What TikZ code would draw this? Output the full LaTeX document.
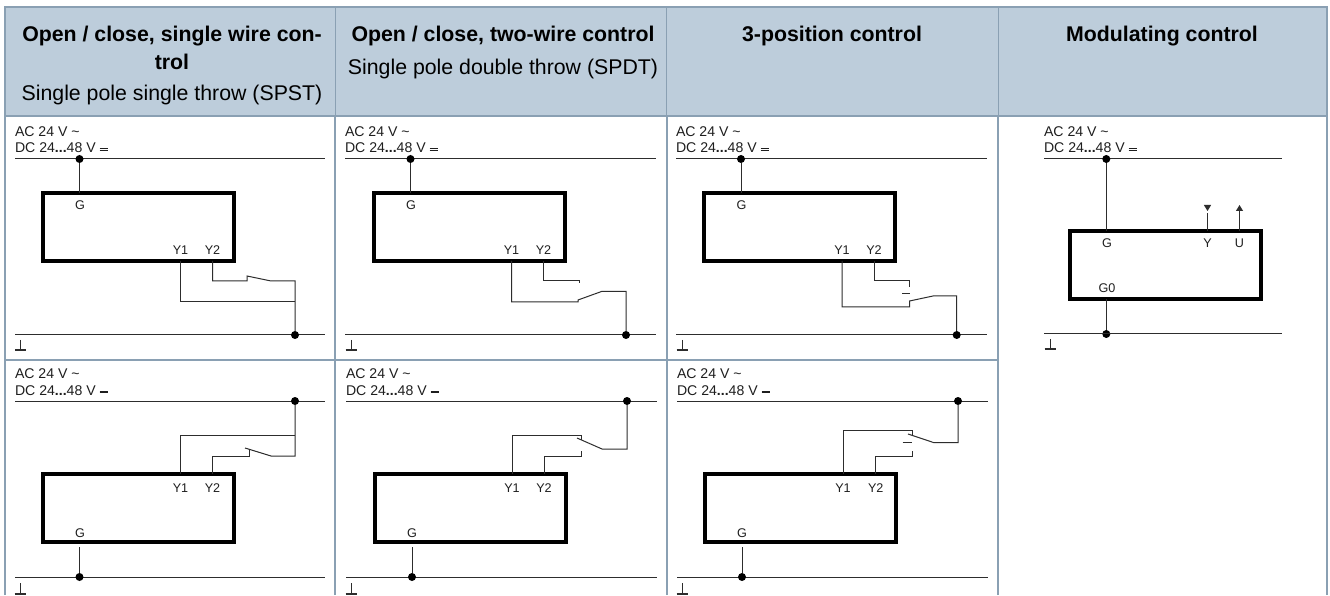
\documentclass[tikz,border=0pt]{standalone}
\usepackage{fontspec}
\setmainfont{Liberation Sans}
\usetikzlibrary{arrows.meta}
\newcommand{\dcmark}{\rlap{\rule[3.8pt]{8pt}{0.7pt}}\rule[2.4pt]{8pt}{0.3pt}}
\tikzset{
  headText/.style={text=black,anchor=base,inner sep=0pt,outer sep=0pt,font=\fontsize{21.3}{24}\selectfont},
  headBold/.style={headText,font=\fontsize{21.3}{24}\selectfont\bfseries},
  smallText/.style={text=textColor,anchor=base,inner sep=0pt,outer sep=0pt,font=\fontsize{12.6}{14}\selectfont},
  supplyText/.style={smallText,anchor=base west,font=\fontsize{14.1}{16}\selectfont},
  deviceBox/.style={draw=black,line width=4pt,inner sep=0pt,outer sep=0pt,minimum width=191pt,minimum height=68pt},
  wireLine/.style={draw=wireColor,line width=1pt,line join=miter},
  busLine/.style={draw=wireColor,line width=1pt},
  joinDot/.style={circle,fill=black,inner sep=0pt,outer sep=0pt,minimum size=8pt},
  earthFoot/.style={draw=wireColor,line width=2.4pt},
  tablePen/.style={draw=ruleColor,line width=2pt},
  headPen/.style={draw=ruleColor,line width=1pt},
  signalTip/.style={draw=wireColor,line width=1pt,-{Triangle[width=7pt,length=6pt,fill=wireColor]}}
}
\begin{document}
\begin{tikzpicture}[x=1pt,y=1pt]
\definecolor{fillColor}{RGB}{189,205,219}
\definecolor{ruleColor}{RGB}{138,160,179}
\definecolor{wireColor}{RGB}{45,45,45}
\definecolor{textColor}{RGB}{30,30,30}
\path[use as bounding box,fill=white] (0,0) rectangle (1330,595);
\begin{scope}
\path[fill=fillColor] (5,479) rectangle (1327,588);

\path[headPen] (335,479) -- (335,588);

\path[headPen] (666.5,479) -- (666.5,588);

\path[headPen] (998,479) -- (998,588);

\path[tablePen] (335,0) -- (335,479);

\path[tablePen] (666.5,0) -- (666.5,479);

\path[tablePen] (998,0) -- (998,479);

\path[tablePen] (5,0) -- (5,589);

\path[tablePen] (1327,0) -- (1327,589);

\path[tablePen] (4,588) -- (1328,588);

\path[tablePen] (4,478.5) -- (1328,478.5);

\path[tablePen] (4,235) -- (998,235);
\end{scope}
\begin{scope}
\node[headBold] (headA) at (172,553) {Open / close, single wire con-};

\node[headBold] (headAb) at (172,525) {trol};

\node[headText] (subA) at (172,494) {Single pole single throw (SPST)};

\node[headBold] (headB) at (503,553) {Open / close, two-wire control};

\node[headText] (subB) at (503,520) {Single pole double throw (SPDT)};

\node[headBold] (headC) at (832,553) {3-position control};

\node[headBold] (headD) at (1162,553) {Modulating control};
\end{scope}
\begin{scope}
\node[supplyText] (acA) at (15,458) {AC 24 V \textasciitilde};

\node[supplyText] (dcA) at (15,442) {DC 24\textbf{...}48 V \dcmark};

\coordinate (supLA) at (15,436);

\coordinate (supRA) at (325,436);

\path[busLine] (supLA) -- (supRA);

\node[joinDot] (supDotA) at (79.5,436) {};

\node[deviceBox] (boxA) at (138.5,368) {};

\path[wireLine] (supDotA) -- (supDotA |- boxA.north);

\node[smallText] (gA) at (80,385) {G};

\node[smallText] (yoneA) at (180.5,340) {Y1};

\node[smallText] (ytwoA) at (212.5,340) {Y2};

\coordinate (gndLA) at (15,260);

\coordinate (gndRA) at (325,260);

\path[busLine] (gndLA) -- (gndRA);

\node[joinDot] (gndDotA) at (295,260) {};

\coordinate (yoneWireA) at (180.5,293);

\coordinate (ytwoWireA) at (212.5,314);

\coordinate (contactA) at (247,319);

\coordinate (bladeA) at (271,314);

\path[wireLine] (yoneA |- boxA.south) -- (yoneWireA) -- (gndDotA |- yoneWireA);

\path[wireLine] (ytwoA |- boxA.south) -- (ytwoWireA) -- (contactA |- ytwoWireA) -- (contactA) -- (bladeA) -- (gndDotA |- bladeA) -- (gndDotA);

\coordinate (earthTopA) at (20.5,255);

\coordinate (earthEndA) at (20.5,245);

\path[wireLine] (earthTopA) -- (earthEndA);

\path[earthFoot] ([xshift=-5.5pt]earthEndA) -- ([xshift=5.5pt]earthEndA);
\end{scope}
\begin{scope}
\node[supplyText] (acB) at (345,458) {AC 24 V \textasciitilde};

\node[supplyText] (dcB) at (345,442) {DC 24\textbf{...}48 V \dcmark};

\coordinate (supLB) at (345,436);

\coordinate (supRB) at (656,436);

\path[busLine] (supLB) -- (supRB);

\node[joinDot] (supDotB) at (410.5,436) {};

\node[deviceBox] (boxB) at (469.5,368) {};

\path[wireLine] (supDotB) -- (supDotB |- boxB.north);

\node[smallText] (gB) at (411,385) {G};

\node[smallText] (yoneB) at (511.5,340) {Y1};

\node[smallText] (ytwoB) at (543.5,340) {Y2};

\coordinate (gndLB) at (345,260);

\coordinate (gndRB) at (656,260);

\path[busLine] (gndLB) -- (gndRB);

\node[joinDot] (gndDotB) at (626,260) {};

\coordinate (yoneWireB) at (511.5,293);

\coordinate (ytwoWireB) at (543.5,314);

\coordinate (contactB) at (579,312);

\coordinate (pivotB) at (578,295);

\coordinate (bladeB) at (601.5,303.5);

\path[wireLine] (ytwoB |- boxB.south) -- (ytwoWireB) -- (contactB |- ytwoWireB) -- (contactB);

\path[wireLine] (yoneB |- boxB.south) -- (yoneWireB) -- (pivotB |- yoneWireB) -- (pivotB) -- (bladeB) -- (gndDotB |- bladeB) -- (gndDotB);

\coordinate (earthTopB) at (351,255);

\coordinate (earthEndB) at (351,245);

\path[wireLine] (earthTopB) -- (earthEndB);

\path[earthFoot] ([xshift=-5.5pt]earthEndB) -- ([xshift=5.5pt]earthEndB);
\end{scope}
\begin{scope}
\node[supplyText] (acC) at (676,458) {AC 24 V \textasciitilde};

\node[supplyText] (dcC) at (676,442) {DC 24\textbf{...}48 V \dcmark};

\coordinate (supLC) at (676,436);

\coordinate (supRC) at (987,436);

\path[busLine] (supLC) -- (supRC);

\node[joinDot] (supDotC) at (741,436) {};

\node[deviceBox] (boxC) at (799.5,368) {};

\path[wireLine] (supDotC) -- (supDotC |- boxC.north);

\node[smallText] (gC) at (741.5,385) {G};

\node[smallText] (yoneC) at (842,340) {Y1};

\node[smallText] (ytwoC) at (874,340) {Y2};

\coordinate (gndLC) at (676,260);

\coordinate (gndRC) at (987,260);

\path[busLine] (gndLC) -- (gndRC);

\node[joinDot] (gndDotC) at (956.7,260) {};

\coordinate (yoneWireC) at (842,288);

\coordinate (ytwoWireC) at (874,314);

\coordinate (contactC) at (909.5,308);

\coordinate (pivotC) at (909.5,294);

\coordinate (bladeC) at (933,299);

\coordinate (midLC) at (902,301);

\coordinate (midRC) at (910,301);

\path[wireLine] (ytwoC |- boxC.south) -- (ytwoWireC) -- (contactC |- ytwoWireC) -- (contactC);

\path[wireLine] (midLC) -- (midRC);

\path[wireLine] (yoneC |- boxC.south) -- (yoneWireC) -- (pivotC |- yoneWireC) -- (pivotC) -- (bladeC) -- (gndDotC |- bladeC) -- (gndDotC);

\coordinate (earthTopC) at (682,255);

\coordinate (earthEndC) at (682,245);

\path[wireLine] (earthTopC) -- (earthEndC);

\path[earthFoot] ([xshift=-5.5pt]earthEndC) -- ([xshift=5.5pt]earthEndC);
\end{scope}
\begin{scope}
\node[supplyText] (acD) at (1044,458) {AC 24 V \textasciitilde};

\node[supplyText] (dcD) at (1044,442) {DC 24\textbf{...}48 V \dcmark};

\coordinate (supLD) at (1044,436);

\coordinate (supRD) at (1282,436);

\path[busLine] (supLD) -- (supRD);

\node[joinDot] (supDotD) at (1106.3,436) {};

\node[deviceBox] (boxD) at (1165.3,330) {};

\node[joinDot] (gndDotD) at (1106.3,261) {};

\coordinate (gndLD) at (1044,261);

\coordinate (gndRD) at (1282,261);

\path[busLine] (gndLD) -- (gndRD);

\path[wireLine] (supDotD) -- (supDotD |- boxD.north);

\path[wireLine] (gndDotD) -- (gndDotD |- boxD.south);

\node[smallText] (gD) at (1107,347) {G};

\node[smallText] (yD) at (1207.5,347) {Y};

\node[smallText] (uD) at (1239.5,347) {U};

\node[smallText] (gzeroD) at (1107,302) {G0};

\coordinate (yEndD) at (1207.5,382);

\coordinate (yTipTopD) at (1207.5,390);

\coordinate (yTipD) at (1207.5,384);

\coordinate (uTipD) at (1239.5,390);

\path[wireLine] (yEndD |- boxD.north) -- (yEndD);

\path[signalTip] (yTipTopD) -- (yTipD);

\path[signalTip] (uTipD |- boxD.north) -- (uTipD);

\coordinate (earthTopD) at (1050,256);

\coordinate (earthEndD) at (1050,246);

\path[wireLine] (earthTopD) -- (earthEndD);

\path[earthFoot] ([xshift=-5.5pt]earthEndD) -- ([xshift=5.5pt]earthEndD);
\end{scope}
\begin{scope}
\node[supplyText] (acE) at (15,217) {AC 24 V \textasciitilde};

\node[supplyText] (dcE) at (15,200) {DC 24\textbf{...}48 V \dcmark};

\coordinate (supLE) at (15,194);

\coordinate (supRE) at (325,194);

\path[busLine] (supLE) -- (supRE);

\node[joinDot] (supDotE) at (295,194) {};

\node[deviceBox] (boxE) at (138.5,87) {};

\node[smallText] (yoneE) at (180.5,103) {Y1};

\node[smallText] (ytwoE) at (212.5,103) {Y2};

\node[smallText] (gE) at (80,58) {G};

\coordinate (yoneWireE) at (180.5,160);

\coordinate (ytwoWireE) at (212.5,139);

\coordinate (contactE) at (249,146);

\coordinate (tipE) at (245,147);

\coordinate (bladeE) at (271,139);

\path[wireLine] (yoneE |- boxE.north) -- (yoneWireE) -- (supDotE |- yoneWireE);

\path[wireLine] (supDotE) -- (supDotE |- bladeE) -- (bladeE) -- (tipE);

\path[wireLine] (contactE) -- (contactE |- ytwoWireE) -- (ytwoWireE) -- (ytwoE |- boxE.north);

\coordinate (gndLE) at (15,18);

\coordinate (gndRE) at (325,18);

\path[busLine] (gndLE) -- (gndRE);

\node[joinDot] (gndDotE) at (79.5,18) {};

\coordinate (gStubE) at (79.5,48);

\path[wireLine] (gStubE) -- (gndDotE);

\coordinate (earthTopE) at (20,12);

\coordinate (earthEndE) at (20,1);

\path[wireLine] (earthTopE) -- (earthEndE);

\path[earthFoot] ([xshift=-5.5pt]earthEndE) -- ([xshift=5.5pt]earthEndE);
\end{scope}
\begin{scope}
\node[supplyText] (acF) at (346,217) {AC 24 V \textasciitilde};

\node[supplyText] (dcF) at (346,200) {DC 24\textbf{...}48 V \dcmark};

\coordinate (supLF) at (346,194);

\coordinate (supRF) at (657,194);

\path[busLine] (supLF) -- (supRF);

\node[joinDot] (supDotF) at (627,194) {};

\node[deviceBox] (boxF) at (470.5,87) {};

\node[smallText] (yoneF) at (512,103) {Y1};

\node[smallText] (ytwoF) at (544,103) {Y2};

\node[smallText] (gF) at (412,58) {G};

\coordinate (yoneWireF) at (512,160);

\coordinate (ytwoWireF) at (544,139);

\coordinate (contactUpF) at (581,155);

\coordinate (contactLoF) at (581,144);

\coordinate (tipF) at (577,157);

\coordinate (bladeF) at (602,146);

\path[wireLine] (yoneF |- boxF.north) -- (yoneWireF) -- (contactUpF |- yoneWireF) -- (contactUpF);

\path[wireLine] (ytwoF |- boxF.north) -- (ytwoWireF) -- (contactLoF |- ytwoWireF) -- (contactLoF);

\path[wireLine] (supDotF) -- (supDotF |- bladeF) -- (bladeF) -- (tipF);

\coordinate (gndLF) at (346,18);

\coordinate (gndRF) at (657,18);

\path[busLine] (gndLF) -- (gndRF);

\node[joinDot] (gndDotF) at (412,18) {};

\coordinate (gStubF) at (412,48);

\path[wireLine] (gStubF) -- (gndDotF);

\coordinate (earthTopF) at (351,12);

\coordinate (earthEndF) at (351,1);

\path[wireLine] (earthTopF) -- (earthEndF);

\path[earthFoot] ([xshift=-5.5pt]earthEndF) -- ([xshift=5.5pt]earthEndF);
\end{scope}
\begin{scope}
\node[supplyText] (acG) at (677,217) {AC 24 V \textasciitilde};

\node[supplyText] (dcG) at (677,200) {DC 24\textbf{...}48 V \dcmark};

\coordinate (supLG) at (677,194);

\coordinate (supRG) at (988,194);

\path[busLine] (supLG) -- (supRG);

\node[joinDot] (supDotG) at (958,194) {};

\node[deviceBox] (boxG) at (800.5,87) {};

\node[smallText] (yoneG) at (843,103) {Y1};

\node[smallText] (ytwoG) at (875.7,103) {Y2};

\node[smallText] (gG) at (742,58) {G};

\coordinate (yoneWireG) at (843,165);

\coordinate (ytwoWireG) at (875.7,139);

\coordinate (contactUpG) at (912,159);

\coordinate (contactLoG) at (912,144);

\coordinate (tipG) at (908,161);

\coordinate (bladeG) at (934,152.3);

\coordinate (midLG) at (902.7,152.3);

\coordinate (midRG) at (912,152.3);

\path[wireLine] (yoneG |- boxG.north) -- (yoneWireG) -- (contactUpG |- yoneWireG) -- (contactUpG);

\path[wireLine] (ytwoG |- boxG.north) -- (ytwoWireG) -- (contactLoG |- ytwoWireG) -- (contactLoG);

\path[wireLine] (midLG) -- (midRG);

\path[wireLine] (supDotG) -- (supDotG |- bladeG) -- (bladeG) -- (tipG);

\coordinate (gndLG) at (677,18);

\coordinate (gndRG) at (988,18);

\path[busLine] (gndLG) -- (gndRG);

\node[joinDot] (gndDotG) at (742,18) {};

\coordinate (gStubG) at (742,48);

\path[wireLine] (gStubG) -- (gndDotG);

\coordinate (earthTopG) at (682,12);

\coordinate (earthEndG) at (682,1);

\path[wireLine] (earthTopG) -- (earthEndG);

\path[earthFoot] ([xshift=-5.5pt]earthEndG) -- ([xshift=5.5pt]earthEndG);
\end{scope}
\end{tikzpicture}
\end{document}
